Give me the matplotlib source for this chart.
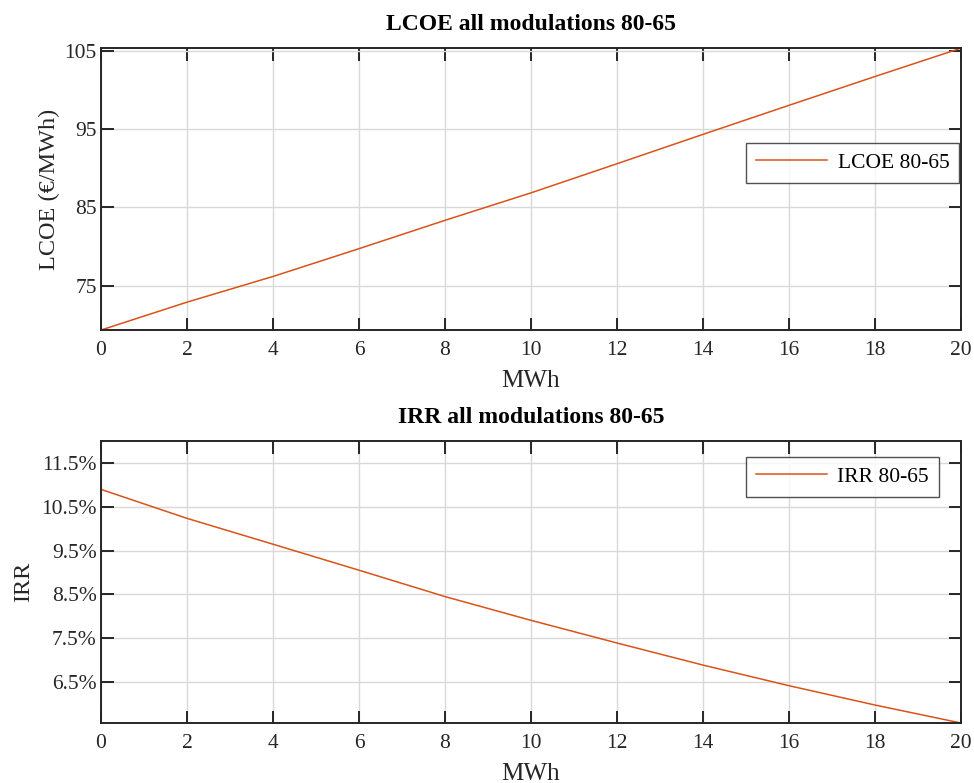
import matplotlib
matplotlib.use("Agg")
import matplotlib.pyplot as plt
from matplotlib.ticker import FuncFormatter

plt.rcParams['font.family'] = ['Liberation Serif', 'DejaVu Serif']
plt.rcParams['mathtext.fontset'] = 'stix'

# Storage capacity (MWh)
capacity = [0, 2, 4, 6, 8, 10, 12, 14, 16, 18, 20]

# Levelised cost of energy (EUR/MWh)
lcoe = [69.3, 72.87, 76.16, 79.72, 83.35, 86.87, 90.6, 94.36, 98.08, 101.77, 105.4]

# Internal rate of return (fraction)
irr = [0.10897, 0.10235, 0.09644, 0.0905, 0.08447, 0.07904, 0.07386, 0.06881,
       0.0641, 0.05968, 0.05557]

lcoe_ticks = [75, 85, 95, 105]
irr_ticks = [0.065, 0.075, 0.085, 0.095, 0.105, 0.115]
x_ticks = list(range(0, 21, 2))

line_color = '#D95319'
axis_color = '#262626'

fig = plt.figure(figsize=(9.74, 7.83), dpi=100)
ax1 = fig.add_axes([0.1037, 0.5785, 0.883, 0.360])
ax2 = fig.add_axes([0.1037, 0.0766, 0.883, 0.360])


def style(ax):
    ax.grid(True, color='#d9d9d9', linewidth=1.0)
    ax.set_axisbelow(True)
    for s in ax.spines.values():
        s.set_color(axis_color)
        s.set_linewidth(1.4)
    ax.tick_params(direction='in', length=9, width=1.4, color=axis_color,
                   top=True, right=True, labelsize=15.5, labelcolor=axis_color)
    ax.tick_params(axis='y', pad=3)
    ax.tick_params(axis='x', pad=8)
    ax.set_xlim(0, 20)
    ax.set_xticks(x_ticks)
    ax.set_xlabel('MWh', fontsize=18, color=axis_color, labelpad=7)


def add_legend(ax, anchor):
    leg = ax.legend(loc='upper right', bbox_to_anchor=anchor, fontsize=15.5,
                    frameon=True, fancybox=False, edgecolor=axis_color,
                    handlelength=3.3, borderpad=0.45, handletextpad=0.5,
                    borderaxespad=0.0)
    leg.get_frame().set_linewidth(1.0)
    return leg


ax1.plot(capacity, lcoe, color=line_color, linewidth=1.1, label='LCOE 80-65')
style(ax1)
ax1.set_ylim(min(lcoe), max(lcoe))
ax1.set_yticks(lcoe_ticks)
ax1.set_ylabel('LCOE (€/MWh)', fontsize=17.5, color=axis_color, labelpad=3)
ax1.set_title('LCOE all modulations 80-65', fontsize=17, fontweight='bold', pad=13)
add_legend(ax1, (0.9977, 0.663))

ax2.plot(capacity, irr, color=line_color, linewidth=1.1, label='IRR 80-65')
style(ax2)
ax2.set_ylim(min(irr), 0.12)
ax2.set_yticks(irr_ticks)
ax2.yaxis.set_major_formatter(FuncFormatter(lambda v, p: f'{v * 100:.1f}%'))
ax2.set_ylabel('IRR', fontsize=17.5, color=axis_color, labelpad=5)
ax2.set_title('IRR all modulations 80-65', fontsize=17, fontweight='bold', pad=13)
add_legend(ax2, (0.974, 0.943))

fig.savefig('out.png', dpi=100, facecolor='white')
